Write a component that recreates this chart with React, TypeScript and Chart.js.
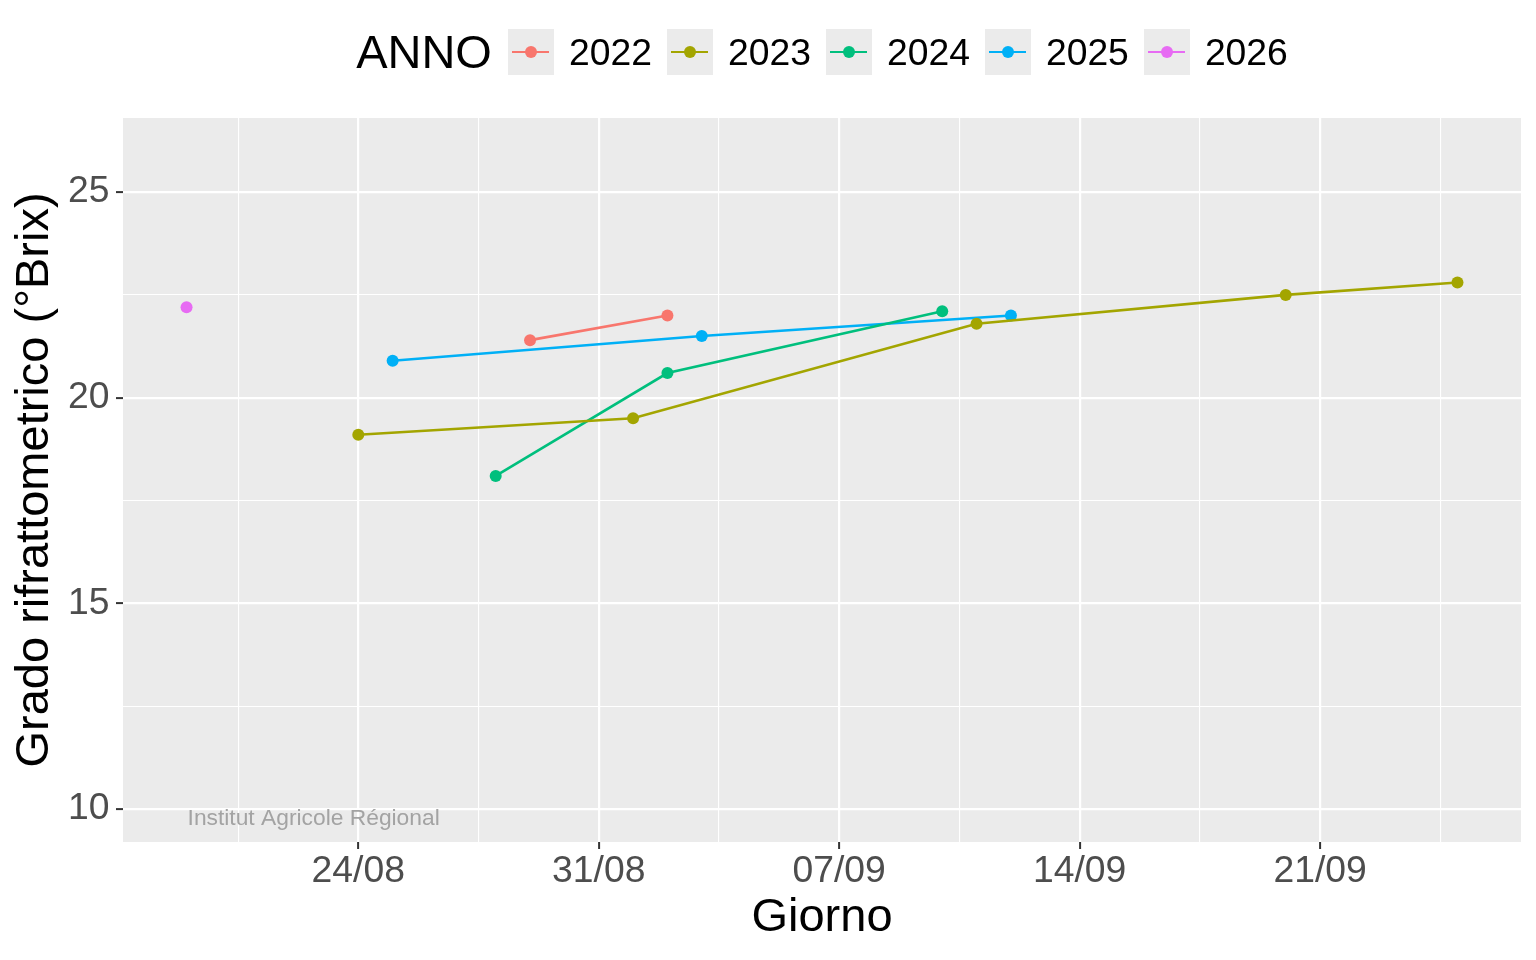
import React, { useEffect, useRef } from "react";
import { Chart, registerables } from "chart.js";

Chart.register(...registerables);

// ---- Data ----
const YEARS = ["2022", "2023", "2024", "2025", "2026"];
const COLORS = ["#F8766D", "#A3A500", "#00BF7D", "#00B0F6", "#E76BF3"];

const DATES_2022 = ["29/08", "02/09"];
const BRIX_2022 = [21.4, 22.0];
const DATES_2023 = ["24/08", "01/09", "11/09", "20/09", "25/09"];
const BRIX_2023 = [19.1, 19.5, 21.8, 22.5, 22.8];
const DATES_2024 = ["28/08", "02/09", "10/09"];
const BRIX_2024 = [18.1, 20.6, 22.1];
const DATES_2025 = ["25/08", "03/09", "12/09"];
const BRIX_2025 = [20.9, 21.5, 22.0];
const DATES_2026 = ["19/08"];
const BRIX_2026 = [22.2];

const X_TICK_LABELS = ["24/08", "31/08", "07/09", "14/09", "21/09"];
const Y_TICKS = [10, 15, 20, 25];
const Y_LIMITS = [10, 26];

const X_TITLE = "Giorno";
const Y_TITLE = "Grado rifrattometrico (°Brix)";
const LEGEND_TITLE = "ANNO";
const WATERMARK = "Institut Agricole Régional";
const WATERMARK_AT = { date: "22/08", dayShift: 0.7, y: 9.76 };

// ---- Helpers ----
const FONT = '"Liberation Sans", Arial, Helvetica, sans-serif';
const REF = Date.UTC(2001, 7, 24);
function dayIndex(s: string): number {
  const [d, m] = s.split("/").map(Number);
  return Math.round((Date.UTC(2001, m - 1, d) - REF) / 86400000);
}

const SERIES = [
  { dates: DATES_2022, brix: BRIX_2022 },
  { dates: DATES_2023, brix: BRIX_2023 },
  { dates: DATES_2024, brix: BRIX_2024 },
  { dates: DATES_2025, brix: BRIX_2025 },
  { dates: DATES_2026, brix: BRIX_2026 },
];

const allX = SERIES.flatMap((s) => s.dates.map(dayIndex));
const xMinData = Math.min(...allX);
const xMaxData = Math.max(...allX);
const xPad = (xMaxData - xMinData) * 0.05;
const X_MIN = xMinData - xPad;
const X_MAX = xMaxData + xPad;
const yPad = (Y_LIMITS[1] - Y_LIMITS[0]) * 0.05;
const Y_MIN = Y_LIMITS[0] - yPad;
const Y_MAX = Y_LIMITS[1] + yPad;

const X_MAJOR = X_TICK_LABELS.map(dayIndex);

function withMinors(majors: number[], min: number, max: number): number[] {
  const step = majors[1] - majors[0];
  const out: number[] = [];
  for (let v = majors[0] - step * Math.ceil((majors[0] - min) / step); v <= max + 1e-9; v += step / 2) {
    if (v >= min - 1e-9) out.push(+v.toFixed(6));
  }
  return out;
}
const X_ALL_TICKS = withMinors(X_MAJOR, X_MIN, X_MAX);
const Y_ALL_TICKS = withMinors(Y_TICKS, Y_MIN, Y_MAX);

const isMajorX = (v: number) => X_MAJOR.some((m) => Math.abs(m - v) < 1e-6);
const isMajorY = (v: number) => Y_TICKS.some((m) => Math.abs(m - v) < 1e-6);

const panelBg = {
  id: "panelBg",
  beforeDraw(chart: any) {
    const { ctx, chartArea } = chart;
    ctx.save();
    ctx.fillStyle = "#EBEBEB";
    ctx.fillRect(chartArea.left, chartArea.top, chartArea.right - chartArea.left, chartArea.bottom - chartArea.top);
    ctx.restore();
  },
};

const watermark = {
  id: "watermark",
  afterDraw(chart: any) {
    const { ctx } = chart;
    const x = chart.scales.x.getPixelForValue(dayIndex(WATERMARK_AT.date) + WATERMARK_AT.dayShift);
    const y = chart.scales.y.getPixelForValue(WATERMARK_AT.y);
    ctx.save();
    ctx.font = `22.8px ${FONT}`;
    ctx.fillStyle = "#A3A3A3";
    ctx.textAlign = "center";
    ctx.textBaseline = "middle";
    ctx.fillText(WATERMARK, x, y);
    ctx.restore();
  },
};

export default function App() {
  const ref = useRef<HTMLCanvasElement>(null);

  useEffect(() => {
    const canvas = ref.current!;
    const chart = new Chart(canvas, {
      type: "line",
      data: {
        datasets: SERIES.map((s, i) => ({
          label: YEARS[i],
          data: s.dates.map((d, j) => ({ x: dayIndex(d), y: s.brix[j] })),
          borderColor: COLORS[i],
          backgroundColor: COLORS[i],
          borderWidth: 2.6,
          pointRadius: 6,
          pointHoverRadius: 6,
          pointBorderWidth: 0,
          fill: false,
          tension: 0,
        })),
      },
      options: {
        animation: false,
        responsive: false,
        devicePixelRatio: 1,
        events: [],
        layout: { padding: { top: 118, left: 0, right: 15, bottom: 0 } },
        plugins: {
          legend: { display: false },
          tooltip: { enabled: false },
        },
        scales: {
          x: {
            type: "linear",
            min: X_MIN,
            max: X_MAX,
            bounds: "data",
            afterBuildTicks: (scale: any) => {
              scale.ticks = X_ALL_TICKS.map((v) => ({ value: v }));
            },
            afterFit: (scale: any) => {
              scale.height = 118;
            },
            border: { display: false },
            grid: {
              color: "#FFFFFF",
              lineWidth: (c: any) => (c.tick && isMajorX(c.tick.value) ? 2.2 : 1.1),
              tickColor: (c: any) => (c.tick && isMajorX(c.tick.value) ? "#333333" : "rgba(0,0,0,0)"),
              tickWidth: 2,
              tickLength: 7,
              drawTicks: true,
            },
            ticks: {
              autoSkip: false,
              maxRotation: 0,
              minRotation: 0,
              padding: 0,
              color: "#4D4D4D",
              font: { family: FONT, size: 37.3 },
              callback: (v: any) => {
                const idx = X_MAJOR.findIndex((m) => Math.abs(m - Number(v)) < 1e-6);
                return idx >= 0 ? X_TICK_LABELS[idx] : "";
              },
            },
            title: {
              display: true,
              text: X_TITLE,
              color: "#000000",
              font: { family: FONT, size: 47, lineHeight: 1 },
              padding: { top: 0, bottom: 18 },
            },
          },
          y: {
            type: "linear",
            min: Y_MIN,
            max: Y_MAX,
            bounds: "data",
            afterBuildTicks: (scale: any) => {
              scale.ticks = Y_ALL_TICKS.map((v) => ({ value: v }));
            },
            afterFit: (scale: any) => {
              scale.width = 123;
            },
            border: { display: false },
            grid: {
              color: "#FFFFFF",
              lineWidth: (c: any) => (c.tick && isMajorY(c.tick.value) ? 2.2 : 1.1),
              tickColor: (c: any) => (c.tick && isMajorY(c.tick.value) ? "#333333" : "rgba(0,0,0,0)"),
              tickWidth: 2,
              tickLength: 7,
              drawTicks: true,
            },
            ticks: {
              autoSkip: false,
              padding: 6.5,
              color: "#4D4D4D",
              font: { family: FONT, size: 37.3 },
              callback: (v: any) => (isMajorY(Number(v)) ? String(v) : ""),
            },
            title: {
              display: true,
              text: Y_TITLE,
              color: "#000000",
              font: { family: FONT, size: 47, lineHeight: 1 },
              padding: { top: 11.5, bottom: 0 },
            },
          },
        },
      } as any,
      plugins: [panelBg, watermark],
    });
    return () => chart.destroy();
  }, []);

  return (
    <div
      style={{
        position: "fixed",
        left: 0,
        top: 0,
        width: 1536,
        height: 960,
        background: "#FFFFFF",
        fontFamily: FONT,
        overflow: "hidden",
      }}
    >
      <canvas
        ref={ref}
        width={1536}
        height={960}
        style={{ position: "absolute", left: 0, top: 0, width: 1536, height: 960 }}
      />
      <div
        style={{
          position: "absolute",
          left: 123,
          width: 1398,
          top: 29,
          height: 46,
          display: "flex",
          alignItems: "center",
          justifyContent: "center",
          whiteSpace: "nowrap",
        }}
      >
        <span style={{ fontSize: 47, lineHeight: "46px", color: "#000000", marginRight: 16 }}>{LEGEND_TITLE}</span>
        {YEARS.map((yr, i) => (
          <React.Fragment key={yr}>
            <div
              style={{
                width: 46,
                height: 46,
                background: "#EBEBEB",
                position: "relative",
                marginLeft: i === 0 ? 0 : 15,
                flex: "0 0 auto",
              }}
            >
              <div
                style={{
                  position: "absolute",
                  left: 4.5,
                  right: 4.5,
                  top: 21.7,
                  height: 2.6,
                  background: COLORS[i],
                }}
              />
              <div
                style={{
                  position: "absolute",
                  left: 17,
                  top: 17,
                  width: 12,
                  height: 12,
                  borderRadius: "50%",
                  background: COLORS[i],
                }}
              />
            </div>
            <span style={{ fontSize: 37.3, lineHeight: "46px", color: "#000000", marginLeft: 15 }}>{yr}</span>
          </React.Fragment>
        ))}
      </div>
    </div>
  );
}
